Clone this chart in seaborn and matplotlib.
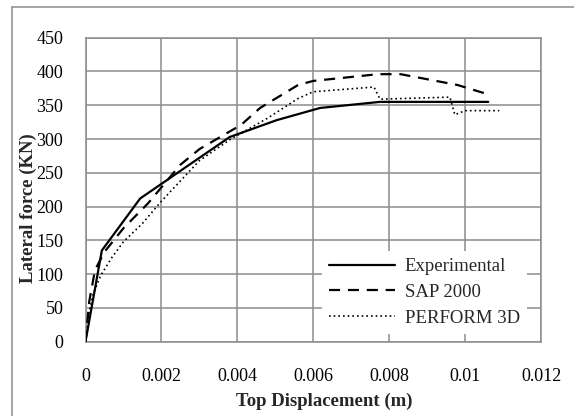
import numpy as np
import pandas as pd
import matplotlib
matplotlib.use("Agg")
import matplotlib.pyplot as plt
import seaborn as sns
from matplotlib.lines import Line2D

exp_x = [0, 0.00043, 0.00144, 0.0038, 0.00504, 0.00618, 0.00776, 0.01061]
exp_y = [0, 135, 212, 303, 328, 346, 355, 355]

sap_x = [0, 0.0001, 0.00025, 0.0005, 0.001, 0.00165, 0.0025, 0.003, 0.0041, 0.0046, 0.0056, 0.006, 0.0077, 0.0083, 0.0098, 0.0105]
sap_y = [0, 60, 106, 133, 168, 205, 262, 285, 321, 346, 380, 386, 396, 396, 380, 368]

per_x = [0, 0.0001, 0.0002, 0.0004, 0.0007, 0.001, 0.0015, 0.002, 0.003, 0.0038, 0.0048, 0.0056, 0.006, 0.0076, 0.00776, 0.0096, 0.00973, 0.0100, 0.0109]
per_y = [0, 45, 70, 98, 125, 148, 175, 208, 268, 299, 331, 360, 370, 377, 359, 362, 336, 342, 342]

series = ["Experimental", "SAP 2000", "PERFORM 3D"]
xticks = [0, 0.002, 0.004, 0.006, 0.008, 0.01, 0.012]
xtick_labels = ["0", "0.002", "0.004", "0.006", "0.008", "0.01", "0.012"]
yticks = [0, 50, 100, 150, 200, 250, 300, 350, 400, 450]

df = pd.concat([
    pd.DataFrame({"x": exp_x, "y": exp_y, "s": series[0]}),
    pd.DataFrame({"x": sap_x, "y": sap_y, "s": series[1]}),
    pd.DataFrame({"x": per_x, "y": per_y, "s": series[2]}),
])

sns.set_style("white")
plt.rcParams["font.family"] = ["Liberation Serif", "DejaVu Serif"]
FS = 13.5

fig = plt.figure(figsize=(5.74, 4.16), dpi=100)
ax = fig.add_axes([85.5 / 574, 1 - 341.7 / 416, (541 - 85.5) / 574, (341.7 - 37.7) / 416])

styles = {
    "Experimental": dict(lw=1.6, ls="-"),
    "SAP 2000": dict(lw=1.6, ls=(0, (5, 3.5))),
    "PERFORM 3D": dict(lw=1.2, ls=(0, (1, 1.8))),
}
for s in series:
    d = df[df.s == s]
    sns.lineplot(data=d, x="x", y="y", sort=False, ax=ax, color="black",
                 label=s, estimator=None, linewidth=styles[s]["lw"],
                 linestyle=styles[s]["ls"], zorder=3)

ax.set_xlim(0, 0.012)
ax.set_ylim(0, 450)
ax.set_xticks(xticks)
ax.set_xticklabels(xtick_labels)
ax.set_yticks(yticks)
ax.grid(True, color="#8c8c8c", lw=1.1)
ax.set_axisbelow(True)
for sp in ax.spines.values():
    sp.set_visible(True)
    sp.set_color("#8c8c8c")
    sp.set_linewidth(1.1)
ax.tick_params(axis="both", length=0, labelsize=13, colors="black")
ax.tick_params(axis="y", pad=16)
ax.tick_params(axis="x", pad=19)

ax.set_xlabel("Top Displacement (m)", fontsize=FS, fontweight="bold")
ax.xaxis.set_label_coords((324.5 - 85.5) / 455.5, (341.7 - 393) / 304)
ax.set_ylabel("")
fig.text(28 / 574, 1 - 208 / 416, "Lateral force (KN)", rotation=90, ha="center",
         va="center", fontsize=FS, fontweight="bold")

leg = ax.legend(loc="upper left", bbox_to_anchor=((321.5 - 85.5) / 455.5, (341.7 - 250.5) / 304),
                fontsize=FS, frameon=True, fancybox=False, handlelength=3.5,
                labelspacing=0.46, borderpad=0.4, handletextpad=0.53, borderaxespad=0)
leg.get_frame().set_facecolor("white")
leg.get_frame().set_edgecolor("white")
leg.get_frame().set_alpha(1)
leg.get_frame().set_linewidth(0)

fig.add_artist(Line2D([12 / 574, 12 / 574], [0, 1 - 7 / 416], color="#8c8c8c", lw=1.1))
fig.add_artist(Line2D([12 / 574, 1], [1 - 7 / 416, 1 - 7 / 416], color="#8c8c8c", lw=1.1))

fig.savefig("out.png", dpi=100)
